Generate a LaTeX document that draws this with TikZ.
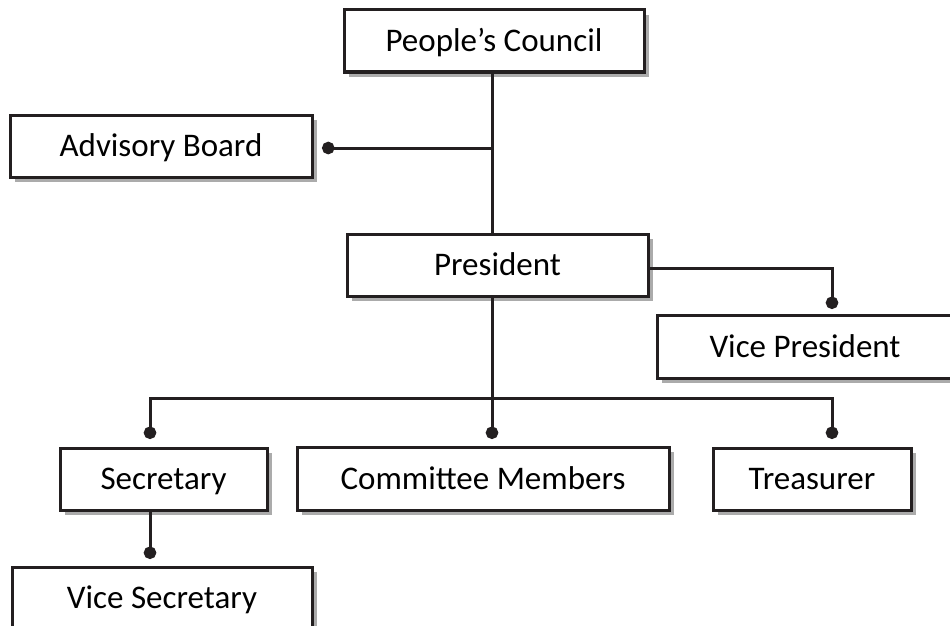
\documentclass[tikz,border=0pt]{standalone}
\usepackage{fontspec}
\setmainfont{Carlito}
\usetikzlibrary{positioning,shadows,arrows.meta}

\begin{document}
\begin{tikzpicture}[x=1pt,y=-1pt,line width=3pt,color={rgb,255:red,35;green,31;blue,32},
        main node/.style={rectangle, draw, fill=white, text=black, inner sep=0pt,
        minimum height=62pt, font=\fontsize{33}{38}\selectfont, text height=21pt, text depth=0pt,
        drop shadow={shadow xshift=5pt, shadow yshift=-5pt, fill=black!33, opacity=1}},
        dot line/.style={-{Circle[length=12.5pt,width=12.5pt]}}
        ]

        \useasboundingbox (0,0) rectangle (950,626);
        \clip (0,0) rectangle (950,626);

        \node [main node, minimum width=300pt] (council) at (494,41) {People’s Council} ;
        \node [main node, minimum width=302pt] (advisory) at (161,146) {Advisory Board} ;
        \node [main node, minimum width=301pt] (president) at (497.5,265) {President} ;
        \node [main node, minimum width=296pt, minimum height=63pt] (vicepres) at (805,346.5) {Vice President} ;
        \node [main node, minimum width=207pt] (secretary) at (163.5,479) {Secretary} ;
        \node [main node, minimum width=372pt, minimum height=63pt] (committee) at (483,478.5) {Committee Members} ;
        \node [main node, minimum width=198pt] (treasurer) at (812,479) {Treasurer} ;
        \node [main node, minimum width=300pt] (vicesec) at (162,598) {Vice Secretary} ;

        % joints and dot ends
        \coordinate (spine) at (492,148) ;
        \coordinate (bar) at (492,398) ;
        \coordinate (adv end) at (322,148) ;
        \coordinate (vp end) at (832,309) ;
        \coordinate (sec end) at (150,439) ;
        \coordinate (com end) at (492,439) ;
        \coordinate (tre end) at (832,439) ;
        \coordinate (vs end) at (150,559) ;

        \draw (spine |- council.south) -- (spine |- president.north) ;
        \draw [dot line] (spine) -- (adv end) ;
        \draw [dot line] (president.east |- 0,268) -| (vp end) ;
        \draw (spine |- president.south) -- (bar) ;
        \draw [dot line] (bar) -| (sec end) ;
        \draw [dot line] (bar) -- (com end) ;
        \draw [dot line] (bar) -| (tre end) ;
        \draw [dot line] (vs end |- secretary.south) -- (vs end) ;
\end{tikzpicture}
\end{document}
